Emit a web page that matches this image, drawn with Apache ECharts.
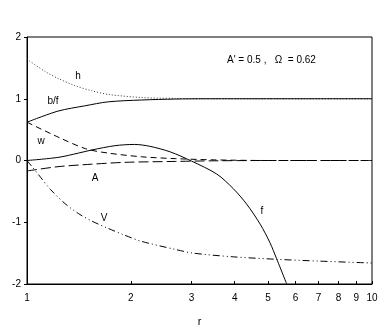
<!DOCTYPE html>
<html>
<head>
<meta charset="utf-8">
<script src="https://cdn.jsdelivr.net/npm/echarts@6/dist/echarts.min.js"></script>
<style>
  html, body { margin: 0; padding: 0; background: #fff; }
  #chart { width: 390px; height: 327px; }
</style>
</head>
<body>
<div id="chart"></div>
<script>
// r values and curves
const xTicks = [1, 2, 3, 4, 5, 6, 7, 8, 9, 10];
const yTicks = [-2, -1, 0, 1, 2];

const hData = [[1, 1.64], [1.13, 1.44], [1.23, 1.33], [1.38, 1.21], [1.54, 1.13], [1.72, 1.07], [2.15, 1.02], [2.69, 1.005], [3.2, 1], [10, 1]];
const bfData = [[1, 0.62], [1.23, 0.8], [1.47, 0.885], [1.72, 0.95], [2.15, 0.98], [2.69, 0.995], [3.3, 1], [10, 1]];
const wData = [[1, 0.62], [1.23, 0.38], [1.48, 0.19], [1.72, 0.12], [2.15, 0.06], [2.69, 0.03], [3.5, 0.01], [5, 0], [10, 0]];
const aData = [[1, -0.17], [1.23, -0.1], [1.54, -0.06], [1.92, -0.03], [2.69, -0.015], [3.5, -0.005], [5, 0], [10, 0]];
const fData = [[1, 0], [1.23, 0.05], [1.41, 0.12], [1.54, 0.17], [1.8, 0.24], [2.05, 0.26], [2.27, 0.23], [2.6, 0.14], [3.0, -0.01], [3.55, -0.22], [3.96, -0.455], [4.33, -0.705], [4.74, -1.03], [5.06, -1.33], [5.29, -1.59], [5.66, -2.0]];
const vData = [[1, 0], [1.08, -0.23], [1.17, -0.47], [1.29, -0.7], [1.41, -0.86], [1.54, -0.98], [1.72, -1.1], [1.92, -1.21], [2.15, -1.31], [2.69, -1.44], [3.03, -1.5], [3.96, -1.56], [5.29, -1.6], [7.07, -1.63], [10, -1.66]];

const curveLabels = [
  { text: "h", x: 78, y: 76 },
  { text: "b/f", x: 53, y: 101 },
  { text: "w", x: 41, y: 141 },
  { text: "A", x: 95, y: 178 },
  { text: "V", x: 104, y: 218 },
  { text: "f", x: 262, y: 211 },
];

const font = "Liberation Sans, Arial, sans-serif";
const chart = echarts.init(document.getElementById("chart"));

function line(name, data, type, color) {
  return {
    name: name,
    type: "line",
    data: data,
    smooth: 0.3,
    showSymbol: false,
    silent: true,
    animation: false,
    lineStyle: { color: color || "#000", width: 1, type: type },
  };
}

let option = {
  animation: false,
  grid: {
    left: 27,
    right: 18,
    top: 37,
    bottom: 43,
    containLabel: false,
    outerBoundsMode: "none",
    show: true,
    borderColor: "#000",
    borderWidth: 1,
  },
  xAxis: {
    type: "log",
    logBase: 10,
    min: 1,
    max: 10,
    name: "r",
    nameLocation: "middle",
    nameGap: 32,
    nameTextStyle: { fontFamily: font, fontSize: 11, color: "#000" },
    axisLine: { onZero: false, lineStyle: { color: "#000", width: 1 } },
    axisTick: { inside: true, length: 3, customValues: xTicks, lineStyle: { color: "#000" } },
    axisLabel: { customValues: xTicks, fontFamily: font, fontSize: 10, color: "#000", margin: 9 },
    splitLine: { show: false },
    minorTick: { show: false },
  },
  yAxis: {
    type: "value",
    min: -2,
    max: 2,
    interval: 1,
    axisLine: { show: true, lineStyle: { color: "#000", width: 1 } },
    axisTick: { show: true, length: 3, lineStyle: { color: "#000" } },
    axisLabel: { fontFamily: font, fontSize: 10, color: "#000", margin: 6 },
    splitLine: { show: false },
  },
  series: [
    line("h", hData, [1, 2], "#333"),
    line("b/f", bfData, "solid"),
    line("w", wData, [6, 4]),
    line("A", aData, [10, 4]),
    line("f", fData, "solid"),
    line("V", vData, [7, 3, 1, 3, 1, 3]),
  ],
  graphic: curveLabels.map(function (l) {
    return {
      type: "text",
      x: l.x,
      y: l.y,
      style: { text: l.text, font: "10px " + font, fill: "#000", align: "center", verticalAlign: "middle" },
    };
  }).concat([
    {
      type: "text",
      x: 227,
      y: 60,
      style: { text: "A' = 0.5 ,   \u03A9  = 0.62", font: "10px " + font, fill: "#000", verticalAlign: "middle" },
    },
  ]),
};

chart.setOption(option);
</script>
</body>
</html>
